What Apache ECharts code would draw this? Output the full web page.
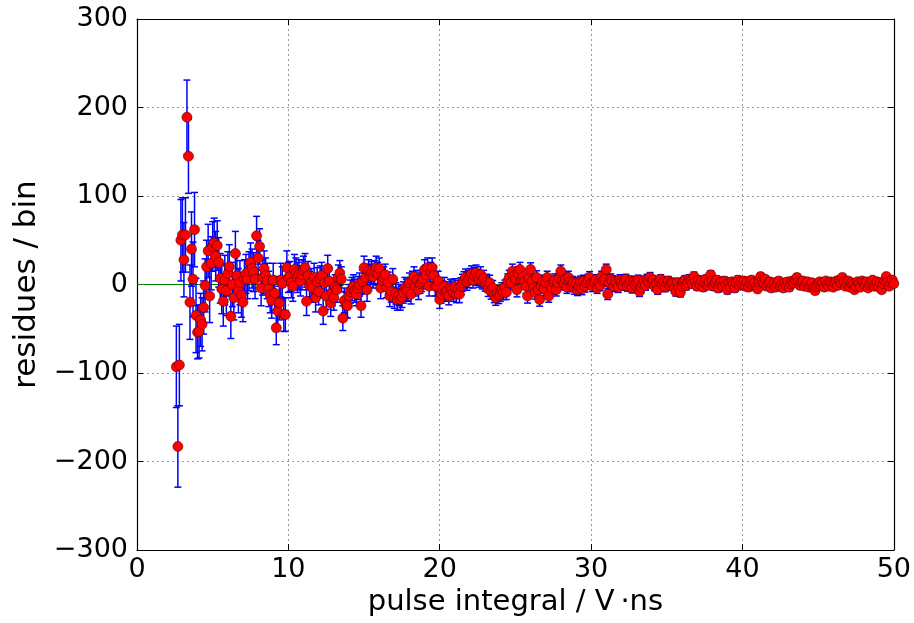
<!DOCTYPE html>
<html>
<head>
<meta charset="utf-8">
<script src="https://cdn.jsdelivr.net/npm/echarts@6/dist/echarts.min.js"></script>
<style>
html,body{margin:0;padding:0;background:#fff;}
#chart{width:914px;height:623px;}
</style>
</head>
<body>
<div id="chart"></div>
<script>
// bin layout (pulse integral, V·ns)
const xStart = 2.6;
const binWidth = 0.1;

// residues per bin
const res02to10 = [
  -93, -183, -91, 50,
  56, 28, 56, 189, 145, -20, 40, 6, 62, -35,
  -54, -53, -40, -45, -26, -1, 20, 38, -13, 24,
  43, 47, 32, 44, 25, 7, -5, -19, 5, -7,
  12, 20, -36, 0, -15, 35, 10, -7, 2, -12,
  -20, 6, 12, 6, 15, 25, 18, 14, 6, 55,
  30, 43, -4, 8, 18, 10, 4, -5, -12, -18,
  5, -10, -49, -30, -21, 5, 1, -34, -34, 19,
  8
];
const res10to20 = [
  9, 2, -2, 17, 13, 8, 11, 4, 11, 16,
  19, -19, 10, -1, 2, -4, 8, -15, 3, -8,
  6, 10, -30, 2, -13, 18, 4, -21, -9, -15,
  -3, -6, 8, 13, 6, -38, -18, -23, -24, -13,
  -8, -5, -2, -7, -11, -4, 0, -24, 3, 19,
  8, -6, 15, 10, 13, 9, 14, 19, 12, 18,
  -4, 5, 8, 11, -3, 2, -13, -8, 6, -15,
  -10, -17, -12, -17, -14, -9, -4, -6, -7, 2,
  -11, 4, 9, -2, 5, -6, 1, 3, 6, 17,
  11, 19, -2, 14, 19, 10, -2, -2, 4, -17
];
const res20to30 = [
  -11, -6, -2, -9, -7, -13, -4, -6, -9, -3,
  -11, -5, -11, -2, 2, 5, 8, 3, 6, 9,
  12, 5, 10, 13, 8, 6, 11, 4, 7, 1,
  3, -5, 2, -8, -4, -12, -15, -10, -13, -11,
  -6, -9, -3, -9, 4, 8, 2, 15, 10, 6,
  -6, 12, 17, 5, 9, 3, -2, -13, 7, 17,
  4, -4, -9, 8, -6, -17, -2, 3, -5, 2,
  8, -13, 0, -4, 3, 5, -6, 2, 7, 15,
  4, 1, 6, -3, 8, 3, -1, 2, -4, 1,
  -6, -2, 3, -5, 4, -2, 2, 5, 8, 1
];
const res30to40 = [
  -2, 3, 5, -4, 2, -1, 9, 4, 6, 17,
  -11, 2, 6, 4, -2, 3, 1, -3, 5, 2,
  -1, 3, 6, -2, 1, 4, -4, 3, 0, 2,
  5, -8, -3, 1, 4, -1, 6, 3, 8, 4,
  5, -2, 1, -6, 3, 6, 0, 3, -3, 2,
  4, -1, 2, 1, -4, -8, 2, -3, -9, -2,
  3, 5, -1, 2, 6, 4, 1, 9, 3, -2,
  5, 0, 4, -3, 2, 6, -1, 3, 11, 4,
  -2, 2, 5, -4, 1, 3, -2, 4, 0, -6,
  2, -3, 3, 1, -4, 2, 5, -1, 3, 0
];
const res40to50 = [
  4, -2, 3, -3, 1, 5, -1, 2, -3, -5,
  3, 9, 4, 2, 6, -2, 1, 3, -4, 0,
  2, -3, 1, 4, -2, 0, -4, 2, -1, 3,
  -3, 1, 4, 2, 5, 8, 3, -1, 2, 4,
  -2, 1, 3, -3, 0, 2, -4, -7, -2, 1,
  3, -1, 2, -3, 4, 0, -2, 3, 1, -3,
  2, 4, -1, 5, 2, 8, 3, -2, 1, 4,
  -3, 2, 0, -6, -2, 3, 1, -3, 4, 2,
  -1, 3, -4, 0, 2, 5, -2, 1, 3, -3,
  2, -6, 1, 4, 9, 3, -2, 2, 5, 1
];
// error bar half-length for bins in each unit of x (units 2 .. 50)
const errByUnit = [
  46, 42, 30, 28, 25, 22, 20, 19,
  17, 16, 15, 14, 13, 13, 12, 12, 11, 11,
  10, 9.5, 9, 8.5, 8, 8, 7.5, 7, 7, 6.5,
  6, 6, 5.5, 5.5, 5, 5, 5, 4.5, 4.5, 4.5,
  4, 4, 4, 4, 3.8, 3.6, 3.6, 3.5, 3.4, 3.3,
  3.2
];
const xTicks = [0, 10, 20, 30, 40, 50];
const yTicks = [-300, -200, -100, 0, 100, 200, 300];

const residues = [].concat(res02to10, res10to20, res20to30, res30to40, res40to50);
const points = residues.map(function (r, i) {
  const x = +(xStart + i * binWidth).toFixed(2);
  const e = errByUnit[Math.floor(x + 1e-9) - 2];
  return [x, r, e];
});

const FONT = 'DejaVu Sans';
const minus = function (v) { return String(v).replace('-', '\u2212'); };

const chart = echarts.init(document.getElementById('chart'), null, {renderer: 'canvas'});
const gridLine = {show: true, lineStyle: {color: '#9a9a9a', width: 1, type: [2, 3]}};
const frame = {show: true, onZero: false, lineStyle: {color: '#000', width: 1.2}};
const tick = {show: true, inside: true, length: 6, lineStyle: {color: '#000', width: 1}};

chart.setOption({
  animation: false,
  backgroundColor: '#fff',
  grid: {left: 137, right: 19, top: 19, bottom: 73, containLabel: false},
  xAxis: [{
    type: 'value', min: xTicks[0], max: xTicks[xTicks.length - 1], interval: 10,
    position: 'bottom',
    name: 'pulse integral / V\u2009\u00B7ns', nameLocation: 'middle', nameGap: 38,
    nameTextStyle: {fontFamily: FONT, fontSize: 29, color: '#000'},
    axisLine: frame, axisTick: tick, splitLine: gridLine,
    axisLabel: {fontFamily: FONT, fontSize: 27, color: '#000', margin: 6}
  }, {
    type: 'value', min: xTicks[0], max: xTicks[xTicks.length - 1], interval: 10,
    position: 'top', axisLine: frame, axisTick: tick, splitLine: {show: false},
    axisLabel: {show: false}
  }],
  yAxis: [{
    type: 'value', min: yTicks[0], max: yTicks[yTicks.length - 1], interval: 100,
    position: 'left',
    name: 'residues / bin', nameLocation: 'middle', nameGap: 91, nameRotate: 90,
    nameTextStyle: {fontFamily: FONT, fontSize: 31, color: '#000'},
    axisLine: frame, axisTick: tick, splitLine: gridLine,
    axisLabel: {fontFamily: FONT, fontSize: 27, color: '#000', margin: 9, formatter: minus}
  }, {
    type: 'value', min: yTicks[0], max: yTicks[yTicks.length - 1], interval: 100,
    position: 'right', axisLine: frame, axisTick: tick, splitLine: {show: false},
    axisLabel: {show: false}
  }],
  series: [{
    type: 'line', silent: true, z: 1,
    data: [[xTicks[0], 0], [xTicks[xTicks.length - 1], 0]],
    symbol: 'none', lineStyle: {color: '#008000', width: 1}
  }, {
    type: 'custom', silent: true, z: 2,
    data: points,
    encode: {x: 0, y: 1},
    renderItem: function (params, api) {
      const x = api.value(0), y = api.value(1), e = api.value(2);
      const top = api.coord([x, y + e]);
      const bot = api.coord([x, y - e]);
      const c = 3.5;
      const st = {stroke: '#0000ff', lineWidth: 1.5};
      return {
        type: 'group',
        children: [
          {type: 'line', shape: {x1: top[0], y1: top[1], x2: bot[0], y2: bot[1]}, style: st},
          {type: 'line', shape: {x1: top[0] - c, y1: top[1], x2: top[0] + c, y2: top[1]}, style: st},
          {type: 'line', shape: {x1: bot[0] - c, y1: bot[1], x2: bot[0] + c, y2: bot[1]}, style: st}
        ]
      };
    }
  }, {
    type: 'scatter', z: 3,
    data: points.map(function (p) { return [p[0], p[1]]; }),
    symbol: 'circle', symbolSize: 10,
    itemStyle: {color: '#ff0000', borderColor: '#550000', borderWidth: 0.6, opacity: 1}
  }]
});
</script>
</body>
</html>
